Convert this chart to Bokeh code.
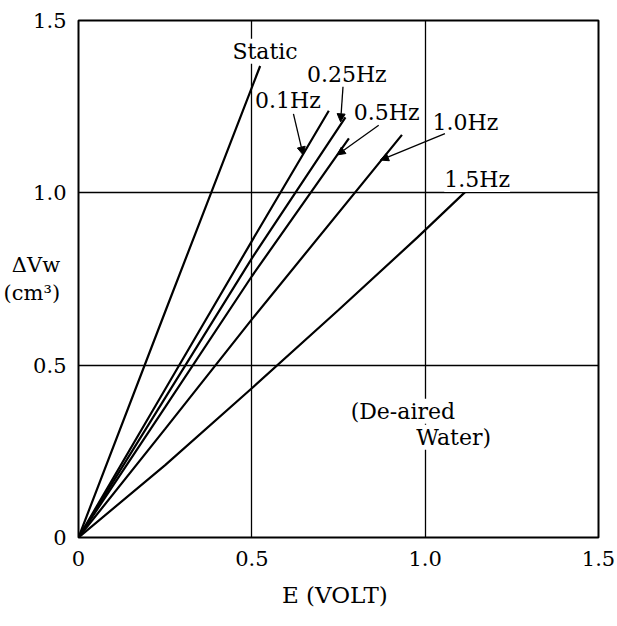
from bokeh.plotting import figure
from bokeh.models import Label, Arrow, NormalHead, FixedTicker, Range1d
from bokeh.embed import file_html
from bokeh.resources import INLINE

# ---- data ----
static_x = [0.0, 0.25, 0.524]
static_y = [0.0, 0.655, 1.368]
hz01_x = [0.0, 0.25, 0.5, 0.722]
hz01_y = [0.0, 0.43, 0.86, 1.238]
hz025_x = [0.0, 0.25, 0.5, 0.770]
hz025_y = [0.0, 0.405, 0.81, 1.219]
hz05_x = [0.0, 0.25, 0.5, 0.780]
hz05_y = [0.0, 0.378, 0.758, 1.158]
hz10_x = [0.0, 0.25, 0.5, 0.933]
hz10_y = [0.0, 0.315, 0.633, 1.168]
hz15_x = [0.0, 0.25, 0.5, 0.75, 0.977, 1.115]
hz15_y = [0.0, 0.21, 0.433, 0.66, 0.870, 1.002]

series = [
    (static_x, static_y), (hz01_x, hz01_y), (hz025_x, hz025_y),
    (hz05_x, hz05_y), (hz10_x, hz10_y), (hz15_x, hz15_y),
]

tick_values = [0, 0.5, 1.0, 1.5]
tick_labels = ["0", "0.5", "1.0", "1.5"]

# curve labels: text, x, y (centres)
label_text = ["Static", "0.1Hz", "0.25Hz", "0.5Hz", "1.0Hz", "1.5Hz"]
label_x = [0.538, 0.604, 0.774, 0.889, 1.116, 1.150]
label_y = [1.411, 1.267, 1.342, 1.232, 1.203, 1.039]

# leader arrows: start -> end (data)
arrow_x0 = [0.620, 0.763, 0.866, 1.057]
arrow_y0 = [1.229, 1.308, 1.196, 1.172]
arrow_x1 = [0.648, 0.756, 0.746, 0.871]
arrow_y1 = [1.110, 1.206, 1.110, 1.095]

FONT = "DejaVu Serif"

p = figure(frame_width=520, frame_height=517,
           min_border_left=78, min_border_right=19,
           min_border_top=20, min_border_bottom=89,
           x_range=Range1d(0, 1.5), y_range=Range1d(0, 1.5),
           output_backend="svg", toolbar_location=None,
           background_fill_color="white", border_fill_color="white")

p.outline_line_color = "black"
p.outline_line_width = 2

for ax in (p.xaxis[0], p.yaxis[0]):
    ax.ticker = FixedTicker(ticks=tick_values)
    ax.major_label_overrides = {v: t for v, t in zip(tick_values, tick_labels)}
    ax.axis_line_color = None
    ax.major_tick_line_color = None
    ax.minor_tick_line_color = None
    ax.major_label_text_font = FONT
    ax.major_label_text_font_size = "21px"
    ax.major_label_text_color = "black"
    ax.axis_label_text_font = FONT
    ax.axis_label_text_font_style = "normal"
    ax.axis_label_text_color = "black"

p.yaxis[0].major_label_standoff = 6
p.xaxis[0].major_label_standoff = 7
p.xaxis[0].axis_label = "E  (VOLT)"
p.xaxis[0].axis_label_text_font_size = "23px"
p.xaxis[0].axis_label_standoff = 13

p.yaxis[0].axis_label = "ΔVw\n(cm³)"
p.yaxis[0].axis_label_text_font_size = "21px"
p.yaxis[0].axis_label_standoff = -30
try:
    p.yaxis[0].axis_label_orientation = "horizontal"
except Exception:
    pass

p.xgrid.ticker = FixedTicker(ticks=tick_values)
p.ygrid.ticker = FixedTicker(ticks=tick_values)
p.grid.grid_line_color = "black"
p.grid.grid_line_width = 1.3
p.grid.grid_line_alpha = 1.0

for xs, ys in series:
    p.line(xs, ys, line_color="black", line_width=2.2)

for t, x, y in zip(label_text, label_x, label_y):
    p.add_layout(Label(x=x, y=y, text=t, text_font=FONT, text_font_size="22px",
                       text_align="center", text_baseline="middle",
                       background_fill_color="white", text_color="black"))

for x0, y0, x1, y1 in zip(arrow_x0, arrow_y0, arrow_x1, arrow_y1):
    p.add_layout(Arrow(x_start=x0, y_start=y0, x_end=x1, y_end=y1,
                       line_width=1.3, line_color="black",
                       end=NormalHead(size=8, fill_color="black", line_color="black")))

p.add_layout(Label(x=0.785, y=0.366, text="(De-aired", text_font=FONT,
                   text_font_size="22px", text_align="left", text_baseline="middle",
                   background_fill_color="white", text_color="black"))
p.add_layout(Label(x=1.19, y=0.291, text="Water)", text_font=FONT,
                   text_font_size="22px", text_align="right", text_baseline="middle",
                   background_fill_color="white", text_color="black"))

open("out.html", "w").write(file_html(p, INLINE))
